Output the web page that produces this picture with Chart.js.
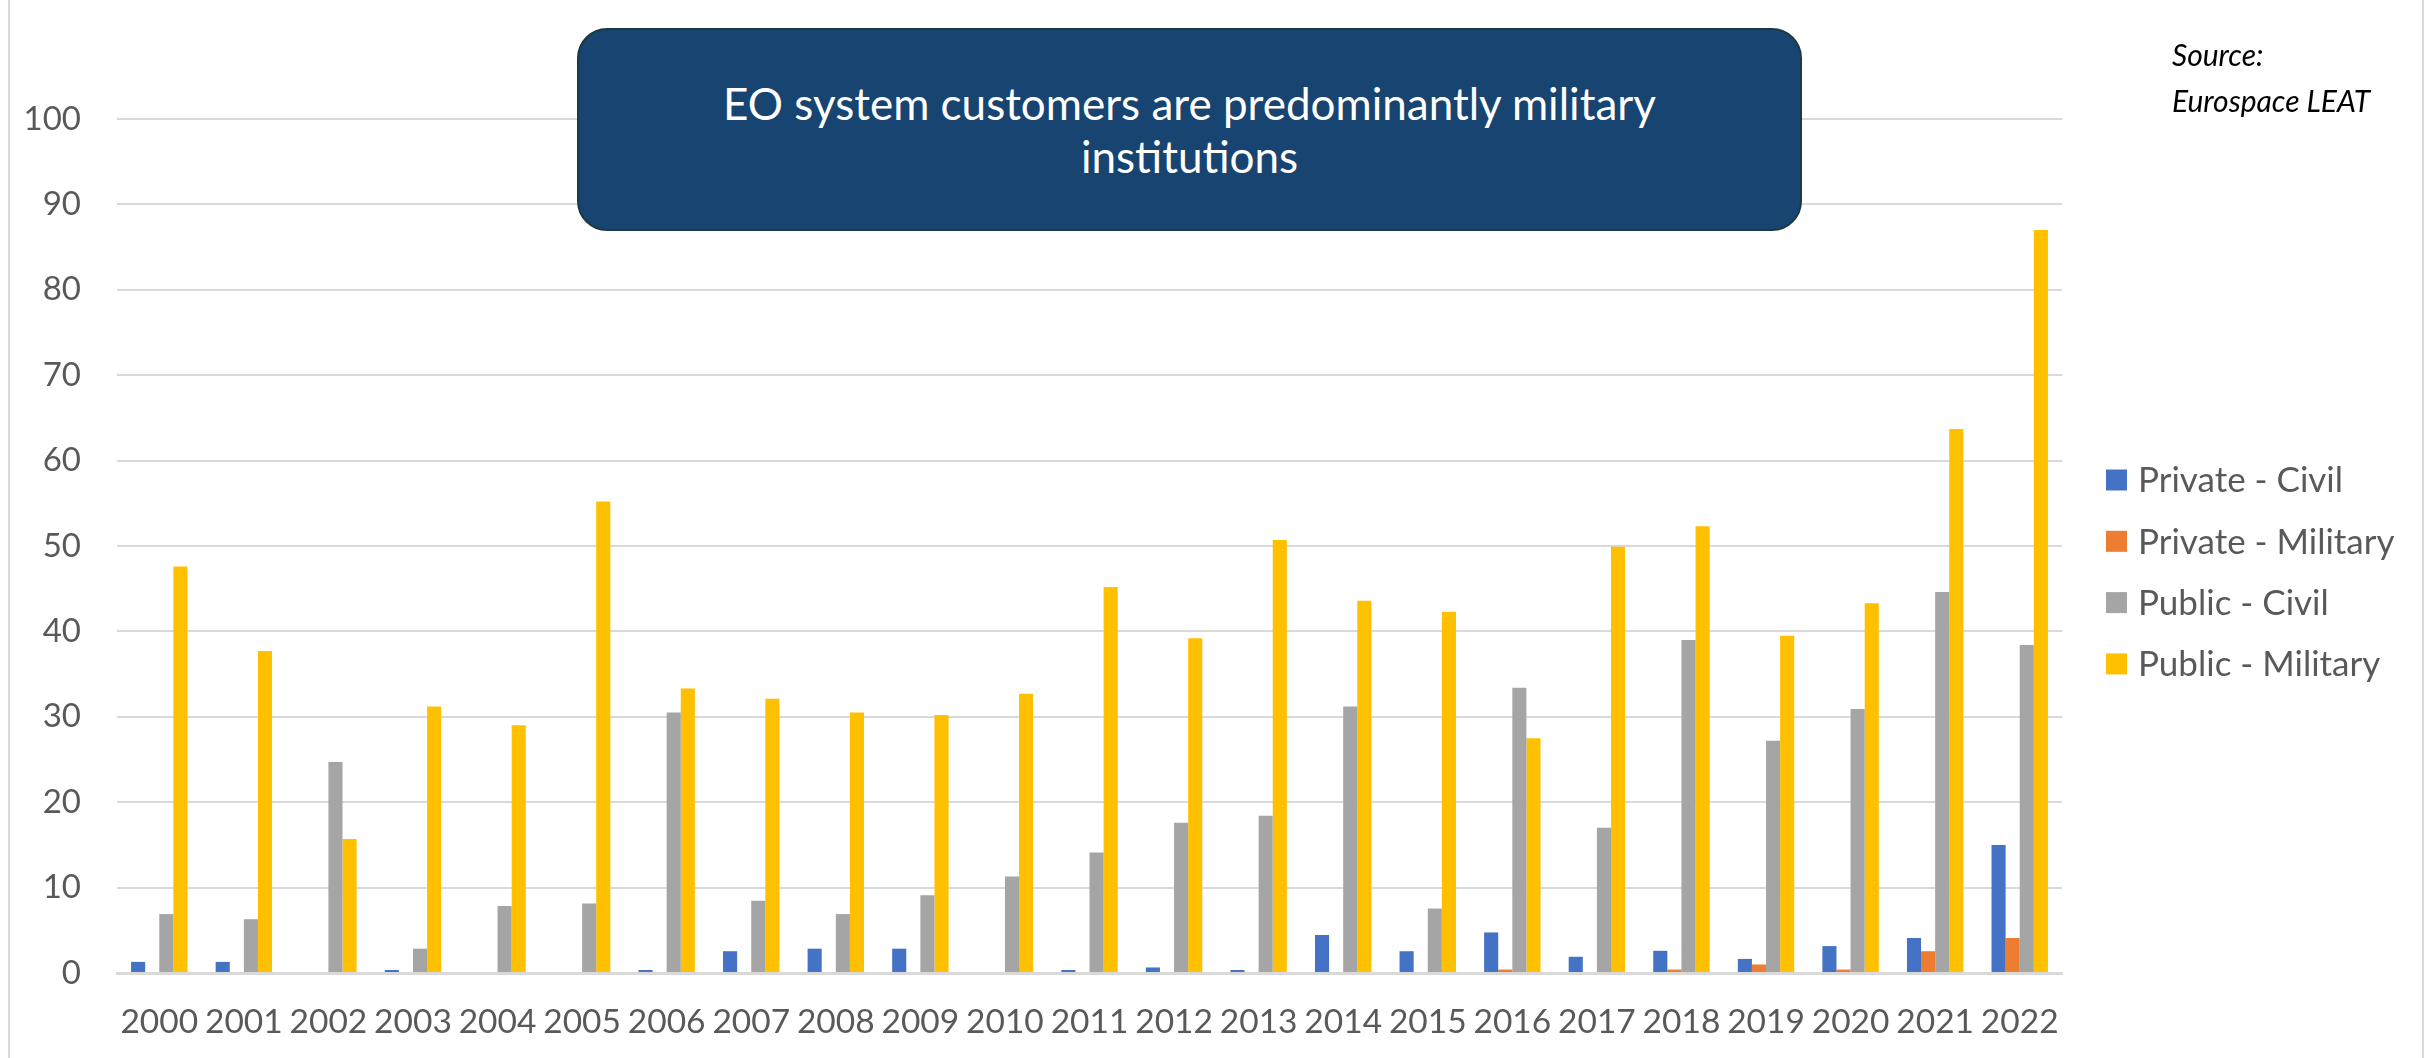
<!DOCTYPE html>
<html>
<head>
<meta charset="utf-8">
<script src="https://cdn.jsdelivr.net/npm/chart.js@4/dist/chart.umd.min.js"></script>
<style>
  html, body { margin: 0; padding: 0; background: #ffffff; }
  #wrap { position: relative; width: 2427px; height: 1058px; overflow: hidden; }
  #frame { position: absolute; left: 8px; top: -4px; width: 2412px; height: 1070px;
           border-left: 2px solid #d9d9d9; border-right: 2px solid #d9d9d9; }
  #chart { position: absolute; left: 0; top: 0; }
  #headline { position: absolute; left: 577px; top: 28px; width: 1225px; height: 203px;
              box-sizing: border-box; background: #174470; border: 2px solid #1d3a42;
              border-radius: 30px; color: #ffffff; font-family: Lato, sans-serif;
              font-size: 44px; line-height: 53px; text-align: center;
              display: flex; align-items: center; justify-content: center; }
  #source { position: absolute; left: 2172px; top: 31px; font-family: Lato, sans-serif;
            font-style: italic; font-size: 30px; line-height: 46px; color: #000000; }
</style>
</head>
<body>
<div id="wrap">
  <div id="frame"></div>
  <canvas id="chart" width="2427" height="1058"></canvas>
  <div id="headline"><div>EO system customers are predominantly military<br>institutions</div></div>
  <div id="source">Source:<br>Eurospace LEAT</div>
</div>
<script>
// Yearly values by customer type
const years = ['2000','2001','2002','2003','2004','2005','2006','2007','2008','2009','2010',
               '2011','2012','2013','2014','2015','2016','2017','2018','2019','2020','2021','2022'];
const privateCivil    = [1.3, 1.3, 0, 0.35, 0, 0, 0.35, 2.55, 2.85, 2.85, 0, 0.35, 0.65, 0.35, 4.45, 2.55, 4.75, 1.9, 2.6, 1.65, 3.15, 4.1, 15.0];
const privateMilitary = [0, 0, 0, 0, 0, 0, 0, 0, 0, 0, 0, 0, 0, 0, 0, 0, 0.4, 0, 0.4, 1.0, 0.4, 2.55, 4.1];
const publicCivil     = [6.9, 6.3, 24.7, 2.85, 7.85, 8.15, 30.5, 8.45, 6.9, 9.1, 11.3, 14.1, 17.6, 18.4, 31.2, 7.55, 33.4, 17.0, 39.0, 27.2, 30.9, 44.6, 38.4];
const publicMilitary  = [47.6, 37.7, 15.7, 31.2, 29.0, 55.2, 33.3, 32.1, 30.5, 30.2, 32.7, 45.2, 39.2, 50.7, 43.6, 42.3, 27.5, 49.9, 52.3, 39.5, 43.3, 63.7, 87.0];
const seriesNames = ['Private - Civil', 'Private - Military', 'Public - Civil', 'Public - Military'];
const yMin = 0, yMax = 100, yStep = 10;

const seriesColors = ['#4472C4', '#ED7D31', '#A5A5A5', '#FFC000'];
const seriesValues = [privateCivil, privateMilitary, publicCivil, publicMilitary];

// Legend drawn at the right of the plot, one row per series
const sideLegend = {
  id: 'sideLegend',
  afterDraw(chart, args, opts) {
    const ctx = chart.ctx;
    ctx.save();
    ctx.font = opts.font;
    ctx.textBaseline = 'middle';
    ctx.textAlign = 'left';
    chart.data.datasets.forEach((ds, i) => {
      const cy = opts.top + i * opts.rowGap;
      ctx.fillStyle = ds.backgroundColor;
      ctx.fillRect(opts.left, cy - opts.box / 2, opts.box, opts.box);
      ctx.fillStyle = opts.color;
      ctx.fillText(ds.label, opts.textLeft, cy + 1);
    });
    ctx.restore();
  }
};

new Chart(document.getElementById('chart'), {
  type: 'bar',
  data: {
    labels: years,
    datasets: seriesNames.map((name, i) => ({
      label: name,
      data: seriesValues[i],
      backgroundColor: seriesColors[i],
      borderWidth: 0,
      categoryPercentage: 0.667,
      barPercentage: 1.0
    }))
  },
  options: {
    responsive: false,
    animation: false,
    layout: { padding: { left: 0, right: 365, top: 119, bottom: 0 } },
    plugins: {
      legend: { display: false },
      tooltip: { enabled: false },
      sideLegend: { left: 2106, textLeft: 2138, top: 480, rowGap: 61.3, box: 21,
                    font: '35px Lato', color: '#595959' }
    },
    scales: {
      x: {
        grid: { display: false, drawTicks: false },
        border: { display: true, color: '#d9d9d9', width: 3 },
        ticks: { color: '#595959', font: { family: 'Lato', size: 33.5 }, padding: 29, maxRotation: 0, autoSkip: false },
        afterFit(scale) { scale.height = 85; }
      },
      y: {
        min: yMin, max: yMax,
        grid: { color: '#d9d9d9', lineWidth: 2, drawTicks: false },
        border: { display: false },
        ticks: { stepSize: yStep, color: '#595959', font: { family: 'Lato', size: 33 }, padding: 36 },
        afterFit(scale) { scale.width = 117; }
      }
    }
  },
  plugins: [sideLegend]
});
</script>
</body>
</html>
